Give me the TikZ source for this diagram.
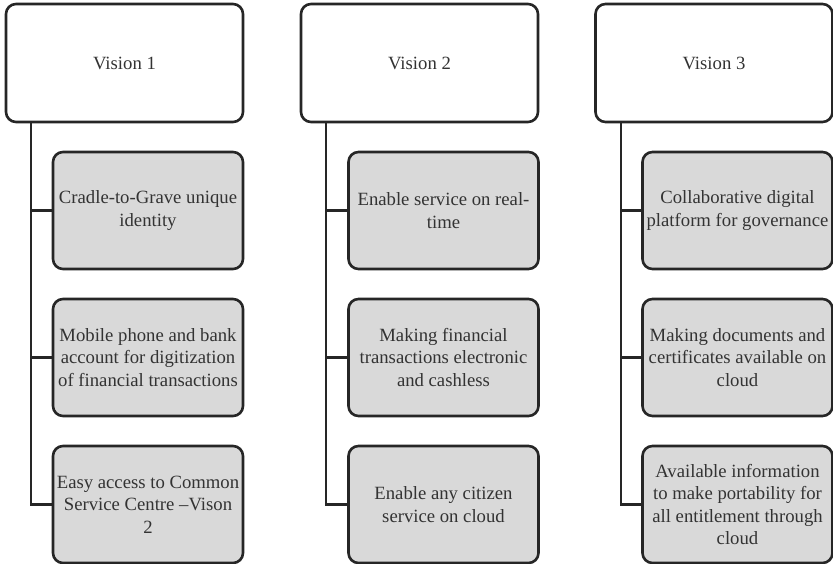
\documentclass[tikz,border=0pt]{standalone}
\usepackage{fontspec}
\setmainfont{Liberation Serif}
\begin{document}
\begin{tikzpicture}[x=1pt,y=-1pt,
  box/.style={draw=black!85,line width=2.6pt,rounded corners=10pt,align=center,
    font=\fontsize{18.7}{22.5}\selectfont,text=black!80,inner sep=0pt,outer sep=0pt},
  parent/.style={box,fill=white,minimum width=237pt,minimum height=118pt},
  child/.style={box,fill=gray!30,minimum width=190pt,minimum height=117pt},
  link/.style={draw=black!85,line width=2.6pt}]
\useasboundingbox (0,0) rectangle (833,564);
\foreach \i/\dx in {1/0,2/295,3/590}{
  \coordinate (t\i) at (31+\dx,0);
}
\node[parent] (p1) at (124.5,63) {Vision 1};
\node[parent] (p2) at (419.5,63) {Vision 2};
\node[parent] (p3) at (714,63) {Vision 3};
\node[child] (c11) at (148,210.5) {Cradle-to-Grave unique\\identity};
\node[child] (c12) at (148,357.5) {Mobile phone and bank\\account for digitization\\of financial transactions};
\node[child] (c13) at (148,504.5) {Easy access to Common\\Service Centre --Vison\\2};
\node[child] (c21) at (443.5,210.5) {Enable service on real-\\time};
\node[child] (c22) at (443.5,357.5) {Making financial\\transactions electronic\\and cashless};
\node[child] (c23) at (443.5,504.5) {Enable any citizen\\service on cloud};
\node[child] (c31) at (737.5,210.5) {Collaborative digital\\platform for governance};
\node[child] (c32) at (737.5,357.5) {Making documents and\\certificates available on\\cloud};
\node[child] (c33) at (737.5,504.5) {Available information\\to make portability for\\all entitlement through\\cloud};
\foreach \i in {1,2,3}{
  \draw[link] (p\i.south -| t\i) |- (c\i3.west);
  \draw[link] (t\i |- c\i1.west) -- (c\i1.west);
  \draw[link] (t\i |- c\i2.west) -- (c\i2.west);
}
\end{tikzpicture}
\end{document}
